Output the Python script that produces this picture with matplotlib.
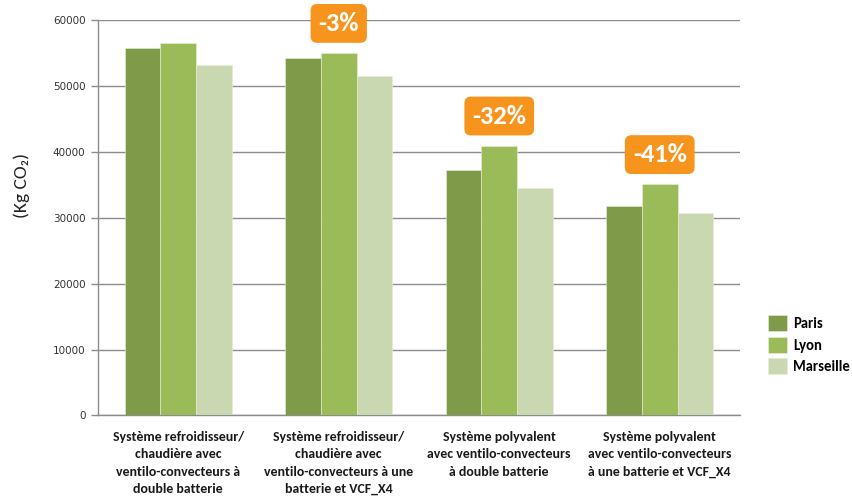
import matplotlib
matplotlib.use("Agg")
import matplotlib.pyplot as plt
import numpy as np

categories = [
    "Système refroidisseur/\nchaudière avec\nventilo-convecteurs à\ndouble batterie",
    "Système refroidisseur/\nchaudière avec\nventilo-convecteurs à une\nbatterie et VCF_X4",
    "Système polyvalent\navec ventilo-convecteurs\nà double batterie",
    "Système polyvalent\navec ventilo-convecteurs\nà une batterie et VCF_X4",
]
series_names = ["Paris", "Lyon", "Marseille"]
paris = [55800, 54200, 37250, 31800]
lyon = [56550, 54950, 40900, 35050]
marseille = [53150, 51500, 34450, 30700]
reductions = [None, "-3%", "-32%", "-41%"]
yticks = [0, 10000, 20000, 30000, 40000, 50000, 60000]

colors = ["#7F9A48", "#9BBB59", "#C9D8B0"]
cal = ["Carlito", "DejaVu Sans"]

fig = plt.figure(figsize=(8.53, 4.96), dpi=100)
ax = fig.add_axes([0.1149, 0.1623, 0.7526, 0.7974])

x = np.arange(len(categories))
w = 0.222
for i, (vals, c, name) in enumerate(zip([paris, lyon, marseille], colors, series_names)):
    ax.bar(x + (i - 1) * w, vals, width=w, color=c, edgecolor="#E6EEDA",
           linewidth=0.4, label=name, zorder=3)

ax.set_xlim(-0.5, len(categories) - 0.5)
ax.set_ylim(0, 60000)
ax.set_yticks(yticks)
ax.set_yticklabels([str(t) for t in yticks], fontsize=7.5, color="#333333",
                   family="DejaVu Sans")
ax.yaxis.grid(True, color="#8C8C8C", linewidth=1.0, zorder=0)
ax.tick_params(axis="y", length=5, width=1, color="#8C8C8C", pad=4)
ax.tick_params(axis="x", length=0)
ax.set_xticks(x)
ax.set_xticklabels([])
for s in ["top", "right"]:
    ax.spines[s].set_visible(False)
for s in ["left", "bottom"]:
    ax.spines[s].set_color("#8C8C8C")
    ax.spines[s].set_linewidth(1.0)

for xi, lab in zip(x, categories):
    ax.text(xi, -2300, lab, ha="center", va="top", fontsize=10,
            fontweight="bold", family=cal, color="#1A1A1A",
            linespacing=1.55, clip_on=False)

fig.text(0.026, 0.627, "(Kg CO\u2082)", rotation=90, ha="center", va="center",
         fontsize=14, color="#222222", family=cal)

# Reduction badges above the Lyon bars
for xi, val, txt in zip(x, lyon, reductions):
    if txt is None:
        continue
    ax.annotate(txt, xy=(xi, val), xytext=(0, 21.5), textcoords="offset points",
                ha="center", va="center", fontsize=19, fontweight="bold",
                color="white", family=cal,
                bbox=dict(boxstyle="round,pad=0.3,rounding_size=0.25",
                          fc="#F7941D", ec="none"),
                annotation_clip=False, zorder=5)

leg = ax.legend(loc="upper left", bbox_to_anchor=(1.035, 0.268), frameon=False,
                prop=dict(family=cal, weight="bold", size=10.5),
                handlelength=1.3, handleheight=1.3, handletextpad=0.4,
                labelspacing=0.38, borderaxespad=0)

fig.savefig("out.png", dpi=100)
